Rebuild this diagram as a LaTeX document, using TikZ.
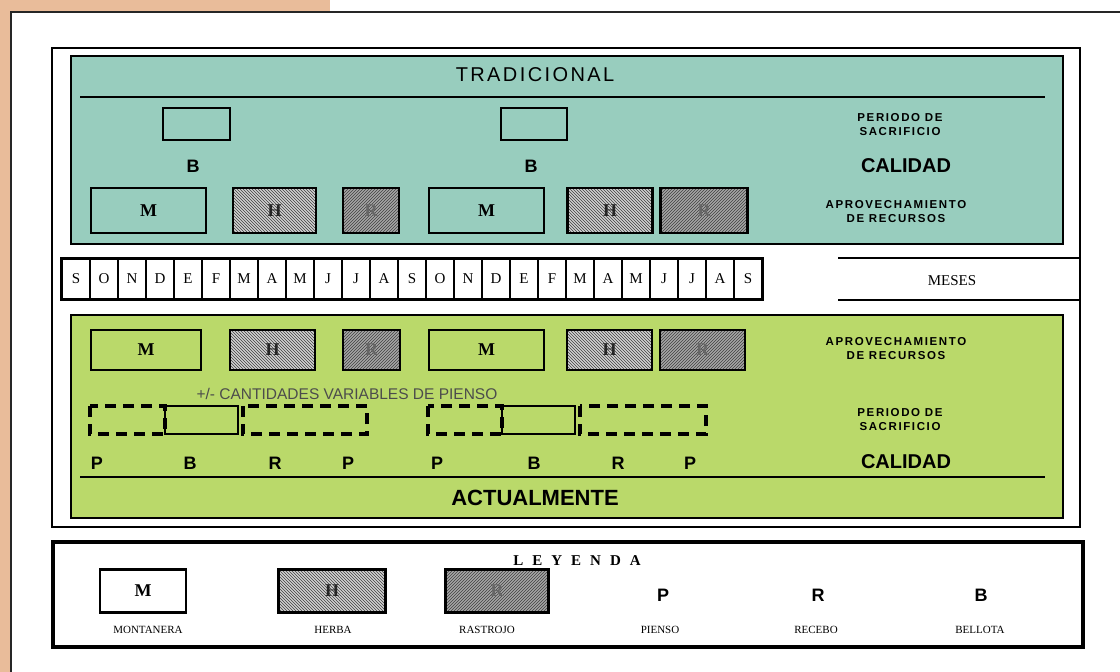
\documentclass[tikz,border=0pt]{standalone}
\usepackage{fontspec}
\setmainfont{Liberation Serif}
\setsansfont{Liberation Sans}
\newfontfamily\spacedsans[LetterSpace=14]{Liberation Sans}
\newfontfamily\widesans[LetterSpace=12]{Liberation Sans}
\newfontfamily\spacedserif[LetterSpace=60]{Liberation Serif}
\usetikzlibrary{patterns}
\definecolor{tealbg}{RGB}{152,205,190}
\definecolor{greenbg}{RGB}{186,217,106}
\definecolor{tanbg}{RGB}{233,188,154}
\tikzset{
  montbox/.style={draw, line width=2.2pt, inner sep=0pt, font=\fontsize{18}{18}\selectfont\bfseries},
  herbabox/.style={montbox, preaction={fill=gray!35}, pattern=north west lines, pattern color=black!75, text=black!85},
  rastrojobox/.style={montbox, preaction={fill=gray!70}, pattern=north east lines, pattern color=black!75, text=black!60},
  dashbox/.style={line width=3.6pt, dash pattern=on 11pt off 7pt},
  letra/.style={font=\fontsize{18}{18}\selectfont\sffamily\bfseries},
  calidad/.style={font=\fontsize{20}{20}\selectfont\sffamily\bfseries},
  rotulo/.style={font=\fontsize{11.5}{14}\selectfont\spacedsans\bfseries, align=center},
  monthbox/.style={draw, line width=1.3pt, minimum width=28, minimum height=40, inner sep=0pt, font=\fontsize{15}{15}\selectfont},
  leyenda/.style={font=\fontsize{11}{11}\selectfont},
}
\begin{document}
\begin{tikzpicture}[x=1pt, y=-1pt]
    \useasboundingbox (0,0) rectangle (1120,672);
    \fill[white] (0,0) rectangle (1120,672);
    % page edge
    \fill[tanbg] (0,0) rectangle (11,672);
    \fill[tanbg] (0,0) rectangle (330,11);
    \draw[line width=1.4pt, black!85] (11,672) -- (11,12) -- (1120,12);
    \draw[line width=2pt] (52,48) rectangle (1080,527);

    % tradicional
    \draw[line width=2.4pt, fill=tealbg] (71,56) rectangle (1063,244);
    \node[font=\fontsize{20}{20}\selectfont\widesans] (trad) at (535,75) {TRADICIONAL};
    \draw[line width=2pt] (80,97) -- (1045,97);
    \draw[line width=2.2pt] (163,108) rectangle (230,140);
    \draw[line width=2.2pt] (501,108) rectangle (567,140);
    \node[letra] (tb1) at (193,166) {B};
    \node[letra] (tb2) at (531,166) {B};
    \node[montbox, minimum width=115, minimum height=45] (tm1) at (148.5,210.5) {M};
    \node[herbabox, minimum width=83, minimum height=45] (th1) at (274.5,210.5) {H};
    \node[rastrojobox, minimum width=56, minimum height=45] (tr1) at (371,210.5) {R};
    \node[montbox, minimum width=115, minimum height=45] (tm2) at (486.5,210.5) {M};
    \node[herbabox, minimum width=85, minimum height=45] (th2) at (610,210.5) {H};
    \node[rastrojobox, minimum width=87, minimum height=45] (tr2) at (704,210.5) {R};
    \node[rotulo] (tper) at (900,125) {PERIODO DE\\SACRIFICIO};
    \node[calidad] (tcal) at (906,166) {CALIDAD};
    \node[rotulo] (tapr) at (896,212) {APROVECHAMIENTO\\DE RECURSOS};

    % meses
    \foreach \m [count=\i] in {S,O,N,D,E,F,M,A,M,J,J,A,S,O,N,D,E,F,M,A,M,J,J,A,S}
        \node[monthbox] (mes\i) at ({62+(\i-0.5)*28},279) {\m};
    \draw[line width=2.4pt] (mes1.north west) rectangle (mes25.south east);
    \draw[line width=2pt] (838,258) -- (1080,258);
    \draw[line width=2pt] (838,300) -- (1080,300);
    \node[font=\fontsize{15}{15}\selectfont] (meses) at (952,281) {MESES};

    % actualmente
    \draw[line width=2.4pt, fill=greenbg] (71,315) rectangle (1063,518);
    \node[montbox, minimum width=110, minimum height=40] (am1) at (146,350) {M};
    \node[herbabox, minimum width=85, minimum height=40] (ah1) at (272.5,350) {H};
    \node[rastrojobox, minimum width=57, minimum height=40] (ar1) at (371.5,350) {R};
    \node[montbox, minimum width=115, minimum height=40] (am2) at (486.5,350) {M};
    \node[herbabox, minimum width=85, minimum height=40] (ah2) at (609.5,350) {H};
    \node[rastrojobox, minimum width=85, minimum height=40] (ar2) at (702.5,350) {R};
    \node[rotulo] (aapr) at (896,349) {APROVECHAMIENTO\\DE RECURSOS};
    \node[font=\fontsize{15.5}{15.5}\selectfont\sffamily, text=black!70] (var) at (347,394) {+/- CANTIDADES VARIABLES DE PIENSO};
    \draw[dashbox] (90,406) rectangle (165,434);
    \draw[line width=1.6pt] (165,406) rectangle (238,434);
    \draw[dashbox] (243,406) rectangle (367,434);
    \draw[dashbox] (428,406) rectangle (502,434);
    \draw[line width=1.6pt] (502,406) rectangle (575,434);
    \draw[dashbox] (580,406) rectangle (706,434);
    \foreach \l/\x [count=\i] in {P/97,B/190,R/275,P/348,P/437,B/534,R/618,P/690}
        \node[letra] (al\i) at (\x,463) {\l};
    \node[rotulo] (aper) at (900,420) {PERIODO DE\\SACRIFICIO};
    \node[calidad] (acal) at (906,462) {CALIDAD};
    \draw[line width=2pt] (80,477) -- (1045,477);
    \node[font=\fontsize{22}{22}\selectfont\sffamily\bfseries] (act) at (535,498) {ACTUALMENTE};

    % leyenda
    \draw[line width=3.4pt] (53,542) rectangle (1083,647);
    \node[font=\fontsize{15}{15}\selectfont\spacedserif\bfseries] (ley) at (577,561) {LEYENDA};
    \node[montbox, minimum width=86, minimum height=43] (lm) at (143,591) {M};
    \node[herbabox, minimum width=107, minimum height=43] (lh) at (332,591) {H};
    \node[rastrojobox, minimum width=103, minimum height=43] (lr) at (497,591) {R};
    \node[leyenda] (lmt) at (148,630) {MONTANERA};
    \node[leyenda] (lht) at (333,630) {HERBA};
    \node[leyenda] (lrt) at (487,630) {RASTROJO};
    \node[letra] (lp) at (663,595) {P};
    \node[letra] (lrc) at (818,595) {R};
    \node[letra] (lb) at (981,595) {B};
    \node[leyenda] (lpt) at (660,630) {PIENSO};
    \node[leyenda] (lrct) at (816,630) {RECEBO};
    \node[leyenda] (lbt) at (980,630) {BELLOTA};
\end{tikzpicture}
\end{document}
